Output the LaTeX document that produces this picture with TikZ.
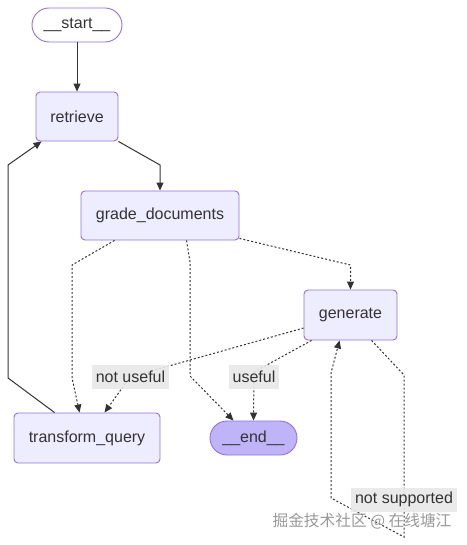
\documentclass[tikz,border=0pt]{standalone}
\usepackage{fontspec}
\setmainfont{Liberation Sans}
\newfontfamily\cjkfont{Noto Sans CJK SC}
\usetikzlibrary{arrows.meta}
\definecolor{nodefill}{HTML}{EEECFF}
\definecolor{nodeline}{HTML}{9370DB}
\definecolor{endfill}{HTML}{BFB4F8}
\definecolor{ink}{HTML}{333333}
\definecolor{lblfill}{HTML}{E8E8E8}

\begin{document}
\begin{tikzpicture}[x=1pt,y=-1pt,
		box/.style={draw=nodeline,fill=nodefill,rounded corners=4pt,line width=0.9pt,inner sep=0pt,minimum height=49pt,text=ink,font=\fontsize{16}{18}\selectfont},
		pill/.style={draw=nodeline,rounded corners=17pt,line width=0.9pt,inner sep=0pt,minimum height=34pt,text=ink,font=\fontsize{16}{18}\selectfont},
		lbl/.style={fill=lblfill,fill opacity=0.9,text opacity=1,inner sep=0pt,minimum height=24pt,text=ink,font=\fontsize{16}{18}\selectfont},
		flow/.style={draw=ink,line width=1pt,-{Triangle[length=8pt,width=7pt]}},
		cond/.style={flow,dash pattern=on 2pt off 2pt}]
		\useasboundingbox (0,0) rectangle (466,545);

		\node[pill,fill=white,minimum width=90pt]			(start)		at (77,25)		{\_\_start\_\_};
		\node[box,minimum width=82pt]						(retrieve)	at (77,116.5)	{retrieve};
		\node[box,minimum width=158pt]						(grade)		at (160,215.5)	{grade\_documents};
		\node[box,minimum width=93pt,minimum height=50pt]	(generate)	at (350.5,315)	{generate};
		\node[box,minimum width=146pt,minimum height=50pt]	(transform)	at (87,438)		{transform\_query};
		\node[pill,fill=endfill,minimum width=87pt]			(end)		at (253.5,438)	{\_\_end\_\_};

		\draw[flow] (start) -- (retrieve);
		\draw[flow] (retrieve.south east) -- (160,165) -- (grade.north);
		\draw[flow] ([xshift=41pt]transform.north west) -- (8,378) -- (8,165) -- ([xshift=6pt]retrieve.south west);
		\draw[cond] ([xshift=34pt]grade.south west) -- (72,265) -- (72,378) -- ([xshift=66pt]transform.north west);
		\draw[cond] ([xshift=106pt]grade.south west) -- (190,262) -- (190,376) -- ([xshift=-20pt]end.north);
		\draw[cond] ([yshift=2pt]grade.south east) -- (350.5,265) -- (generate.north);
		\draw[cond] ([yshift=-13pt]generate.west) -- (130,377) -- ([xshift=91pt]transform.north west);
		\draw[cond] ([xshift=8pt]generate.south west) -- (254,372) -- (end.north);
		\draw[cond] ([xshift=68pt]generate.south west) -- (404,375) -- (404,537) -- (331,498) -- (331,373) -- ([xshift=36pt]generate.south west);

		\node[lbl,minimum width=77pt]	(notuseful)		at (130.5,377)	{not useful};
		\node[lbl,minimum width=50pt]	(useful)		at (254,377)	{useful};
		\node[lbl,minimum width=106pt]	(notsupported)	at (404,499.5)	{not supported};

		\node[text=black!40,font=\cjkfont\fontsize{15.7}{18}\selectfont] (mark) at (362,521) {掘金技术社区 @ 在线塘江};
	\end{tikzpicture}
\end{document}
